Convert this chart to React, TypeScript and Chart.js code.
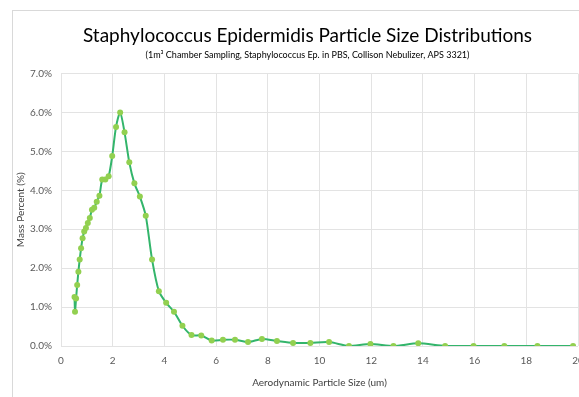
import React, { useEffect, useRef } from "react";
import { Chart, registerables } from "chart.js";

Chart.register(...registerables);

const particleSizes: number[] = [
  0.523, 0.542, 0.583, 0.626, 0.673, 0.723, 0.777, 0.835, 0.898, 0.965,
  1.037, 1.114, 1.197, 1.286, 1.382, 1.486, 1.596, 1.715, 1.843, 1.981,
  2.129, 2.288, 2.458, 2.642, 2.839, 3.051, 3.278, 3.523, 3.786, 4.068,
  4.371, 4.698, 5.048, 5.425, 5.829, 6.264, 6.732, 7.234, 7.774, 8.354,
  8.977, 9.647, 10.37, 11.14, 11.97, 12.86, 13.82, 14.86, 15.96, 17.15,
  18.43, 19.81,
];

const massPercent: number[] = [
  1.26, 0.88, 1.22, 1.57, 1.91, 2.22, 2.51, 2.77, 2.94, 3.03,
  3.16, 3.29, 3.5, 3.55, 3.71, 3.86, 4.28, 4.28, 4.36, 4.88,
  5.63, 6.0, 5.49, 4.72, 4.18, 3.84, 3.35, 2.22, 1.41, 1.11,
  0.88, 0.52, 0.28, 0.27, 0.14, 0.16, 0.16, 0.1, 0.18, 0.13,
  0.08, 0.08, 0.1, 0.0, 0.05, 0.0, 0.07, 0.0, 0.0, 0.0,
  0.0, 0.0,
];

const titleText = "Staphylococcus Epidermidis Particle Size Distributions";
const subtitleText =
  "(1m\u00B3 Chamber Sampling, Staphylococcus Ep. in PBS, Collison Nebulizer, APS 3321)";
const xAxisTitle = "Aerodynamic Particle Size (um)";
const yAxisTitle = "Mass Percent (%)";

const FONT = "Lato, 'Open Sans', sans-serif";
const CANVAS_W = 589;
const CANVAS_H = 398;

// Center the title blocks on the whole canvas (like the Excel chart box)
const centerTitles = {
  id: "centerTitles",
  afterLayout(chart: any) {
    for (const box of chart.boxes) {
      const t = box?.options?.text;
      if (t === titleText || t === subtitleText) {
        box.left = 0;
        box.right = chart.width;
        box.width = chart.width;
      }
    }
  },
};

export default function App() {
  const canvasRef = useRef<HTMLCanvasElement | null>(null);

  useEffect(() => {
    document.documentElement.style.overflow = "hidden";
    document.body.style.overflow = "hidden";
    document.body.style.margin = "0";
    const canvas = canvasRef.current;
    if (!canvas) return;
    const chart = new Chart(canvas, {
      type: "line",
      data: {
        datasets: [
          {
            data: particleSizes.map((x, i) => ({ x, y: massPercent[i] })),
            borderColor: "#33b56b",
            borderWidth: 2,
            backgroundColor: "#92d050",
            pointBackgroundColor: "#92d050",
            pointBorderColor: "#92d050",
            pointRadius: 3,
            pointBorderWidth: 0,
            tension: 0.25,
            fill: false,
          },
        ],
      },
      plugins: [centerTitles],
      options: {
        animation: false,
        responsive: false,
        maintainAspectRatio: false,
        layout: { padding: { left: 0, right: 24, top: 13, bottom: 20 } },
        plugins: {
          legend: { display: false },
          tooltip: { enabled: false },
          title: {
            display: true,
            text: titleText,
            color: "#000000",
            font: { family: FONT, size: 19, weight: "normal" },
            padding: { top: 0, bottom: 3 },
          },
          subtitle: {
            display: true,
            text: subtitleText,
            color: "#000000",
            font: { family: FONT, size: 9, weight: "normal" },
            padding: { top: 0, bottom: 13 },
          },
        },
        scales: {
          x: {
            type: "linear",
            min: 0,
            max: 20,
            ticks: {
              stepSize: 2,
              color: "#595959",
              font: { family: FONT, size: 10 },
              padding: 9,
            },
            grid: { color: "#e3e3e3", drawTicks: false },
            border: { display: false },
            title: {
              display: true,
              text: xAxisTitle,
              color: "#404040",
              font: { family: FONT, size: 10 },
              padding: { top: 1, bottom: 0 },
            },
          },
          y: {
            min: 0,
            max: 7,
            afterFit: (scale: any) => {
              scale.width = 48;
            },
            ticks: {
              stepSize: 1,
              color: "#595959",
              font: { family: FONT, size: 10 },
              padding: 9,
              callback: (v: any) => Number(v).toFixed(1) + "%",
            },
            grid: { color: "#e3e3e3", drawTicks: false },
            border: { display: false },
            title: {
              display: true,
              text: yAxisTitle,
              color: "#404040",
              font: { family: FONT, size: 10 },
              padding: { top: 2, bottom: 4 },
            },
          },
        },
      },
    });
    return () => chart.destroy();
  }, []);

  return (
    <div
      style={{
        position: "absolute",
        left: 12,
        top: 10,
        width: CANVAS_W + 2,
        height: CANVAS_H + 2,
        border: "1px solid #d9d9d9",
        boxSizing: "border-box",
        background: "#ffffff",
      }}
    >
      <canvas
        ref={canvasRef}
        width={CANVAS_W}
        height={CANVAS_H}
        style={{ display: "block", width: CANVAS_W, height: CANVAS_H }}
      />
    </div>
  );
}
